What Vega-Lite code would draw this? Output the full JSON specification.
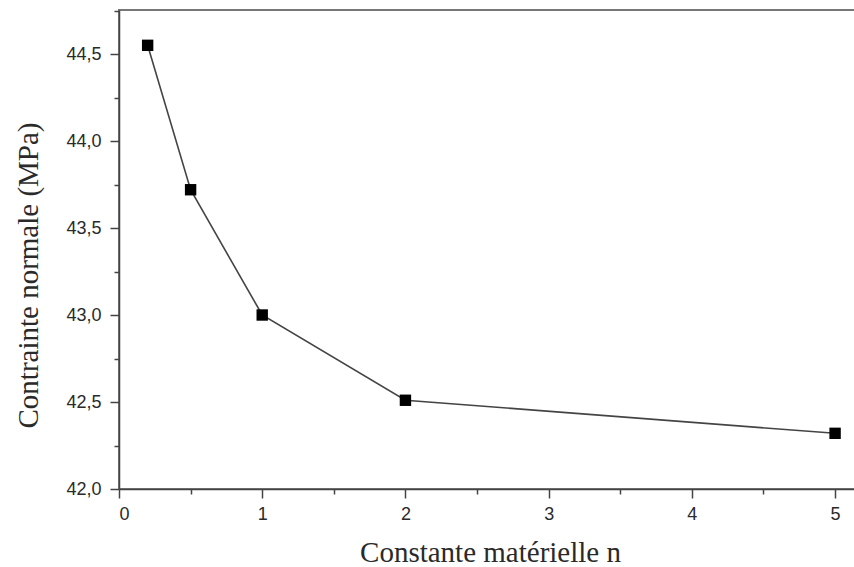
{
  "$schema": "https://vega.github.io/schema/vega-lite/v6.json",
  "width": 740,
  "height": 479,
  "autosize": "none",
  "padding": {"left": 119, "top": 10, "right": 0, "bottom": 78},
  "background": "white",
  "config": {
    "view": {"stroke": "#777", "strokeWidth": 2},
    "axis": {
      "grid": false,
      "domainColor": "#444",
      "domainWidth": 1.5,
      "tickColor": "#444",
      "tickWidth": 1.5,
      "labelFont": "Liberation Sans",
      "labelFontSize": 18,
      "labelColor": "#2a2a2a",
      "titleFont": "Liberation Serif",
      "titleFontSize": 29,
      "titleFontWeight": "normal",
      "titleColor": "#2a2a2a"
    }
  },
  "data": {
    "values": [
      {"n": 0.2, "contrainte": 44.55},
      {"n": 0.5, "contrainte": 43.72},
      {"n": 1, "contrainte": 43.0},
      {"n": 2, "contrainte": 42.51},
      {"n": 5, "contrainte": 42.32}
    ]
  },
  "layer": [
    {
      "mark": {"type": "line", "color": "#444", "strokeWidth": 1.6},
      "encoding": {
        "x": {
          "field": "n", "type": "quantitative",
          "scale": {"domain": [0, 5.167], "nice": false, "zero": false},
          "axis": {
            "orient": "bottom",
            "values": [0, 1, 2, 3, 4, 5],
            "tickSize": 9,
            "labelPadding": 7,
            "title": "Constante matérielle n",
            "titleX": 371,
            "titleY": 63,
            "titleBaseline": "middle"
          }
        },
        "y": {
          "field": "contrainte", "type": "quantitative",
          "scale": {"domain": [42, 44.753], "nice": false, "zero": false},
          "axis": {
            "orient": "left",
            "values": [42, 42.5, 43, 43.5, 44, 44.5],
            "labelExpr": "replace(format(datum.value, '.1f'), '.', ',')",
            "tickSize": 9,
            "labelPadding": 9,
            "title": "Contrainte normale (MPa)",
            "titleX": -91,
            "titleY": 265,
            "titleBaseline": "middle"
          }
        }
      }
    },
    {
      "mark": {"type": "square", "size": 130, "color": "black", "opacity": 1},
      "encoding": {
        "x": {
          "field": "n", "type": "quantitative",
          "axis": {
            "orient": "bottom",
            "values": [0.5, 1.5, 2.5, 3.5, 4.5],
            "tickSize": 5,
            "labels": false,
            "domain": false,
            "title": null
          }
        },
        "y": {
          "field": "contrainte", "type": "quantitative",
          "axis": {
            "orient": "left",
            "values": [42.25, 42.75, 43.25, 43.75, 44.25, 44.75],
            "tickSize": 5,
            "labels": false,
            "domain": false,
            "title": null
          }
        }
      }
    }
  ],
  "resolve": {"axis": {"x": "independent", "y": "independent"}}
}
